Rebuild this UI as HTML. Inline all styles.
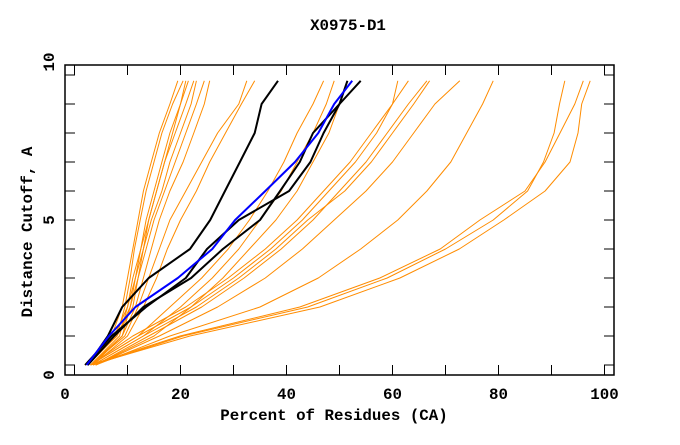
<!DOCTYPE html>
<html><head><meta charset="utf-8"><style>
body{margin:0;background:#fff}
svg text{font-family:"Liberation Mono",monospace;font-weight:bold;font-size:15.8px;fill:#000}
</style></head><body>
<svg id="chart" width="680" height="440" xmlns="http://www.w3.org/2000/svg">
<text x="348" y="30" text-anchor="middle">X0975-D1</text>
<text x="334" y="420" text-anchor="middle">Percent of Residues (CA)</text>
<text transform="translate(32,232) rotate(-90)" text-anchor="middle">Distance Cutoff, A</text>
<g id="series"></g>
<g id="axes"></g>
</svg>
<script>
const cutoffs=[0,1,2,3,4,5,6,7,8,9,9.8];
const orangeSeries=[
[2,8,9.5,10.5,11.3,12.4,13.5,15,16.5,18.5,20.5],
[2.5,7,9,10,11,12,13,14.5,16,18,19.5],
[3,8.5,10,11,12.5,13.5,15,16.5,18,20,21.5],
[2,7.5,10,11.5,12.5,14,15.5,17,19,21,22.5],
[3,9,10.5,12,13,14.5,16.5,18,20,22,23],
[2.5,8,11,12,13.5,15,17,19,21,23,24.5],
[3.5,9,11.5,13,14.5,16,18,20.5,22.5,24.5,25.5],
[2,8,10.5,11.5,13,14,15.5,17,18.5,20,21],
[3,9.5,12,14,16,18,21,24,27,31,32.5],
[3.5,10,13,15.5,17.5,20,23,25.5,28.5,31.5,34],
[3,12,18,24,29,33,36.5,39.5,42,45,47],
[3.5,13,20,26,31,35,39,42,45,47.5,49],
[4,15,22,28,33,38,42,45,48,50,51.5],
[3,11,21,29,36,42,47,52,56,60,63],
[3.5,13,23,31,38,44,51,56,60,64,67],
[4,14,24,32,39,45,50,55,59,63,66.5],
[3,12,22,30,37,43,48,53,57,60,61],
[4,16,27,36,43,49,55,60,64,68,72.7],
[3,19.9,42.5,57.6,69,76.5,85,88.8,91.6,94.4,96],
[3,21.8,46.3,61.4,72.6,81,88.8,93.5,95,95.7,97.3],
[3.5,20.5,44,59,70,79,85.5,88.5,90.5,91.5,92.5],
[4,18,35,46,54,61,66.5,71,74,77,79]
];
const blackSeries=[
[2.5,6.3,9,14,21.8,25.6,28.4,31.2,34,35.3,38.4],
[2,7,13.5,21,25,31,40.5,44.5,47,50,51.5],
[2.5,7.5,13,22,28,35,38.8,42.5,45,50,54]
];
const blueSeries=[[2.3,6.5,11.5,19.5,26,30.3,36,41.6,46,49,52.4]];
const xTicks=[0,10,20,30,40,50,60,70,80,90,100];
const xLabels=["0","20","40","60","80","100"];
const yTicks=[0,1,2,3,4,5,6,7,8,9,10];
const yLabels=["0","5","10"];

const L=65,R=614,T=65,B=375;
function sx(v){return 74.5+5.3*v;}
function sy(v){return 365-29*v;}
const NS="http://www.w3.org/2000/svg";
const g=document.getElementById('series'), ax=document.getElementById('axes');
function mk(tag,attrs,parent){const e=document.createElementNS(NS,tag);for(const k in attrs)e.setAttribute(k,attrs[k]);parent.appendChild(e);return e;}
function drawLine(vals,color,w,name){
  const pts=vals.map((v,i)=>sx(v).toFixed(1)+','+sy(cutoffs[i]).toFixed(1)).join(' ');
  const p=mk('polyline',{points:pts,fill:'none',stroke:color,'stroke-width':w,'stroke-linejoin':'round'},g);
  
  
}
orangeSeries.forEach((s,i)=>drawLine(s,'#ff8c00',1,'orange-line-'+(i+1)));
blackSeries.forEach((s,i)=>drawLine(s,'#000',2,'black-line-'+(i+1)));
blueSeries.forEach((s,i)=>drawLine(s,'#0000ff',2,'blue-line'));
const fr=mk('rect',{x:L,y:T,width:R-L,height:B-T,fill:'none',stroke:'#000','stroke-width':1.5},ax);


xTicks.forEach(v=>{const x=sx(v);if(x<=L+1)return;
  mk('line',{x1:x,y1:B,x2:x,y2:B-10,stroke:'#000','stroke-width':1},ax);
  mk('line',{x1:x,y1:T,x2:x,y2:T+10,stroke:'#000','stroke-width':1},ax);});
yTicks.forEach(v=>{const y=sy(v);if(y<T)return;
  mk('line',{x1:L,y1:y,x2:L+10,y2:y,stroke:'#000','stroke-width':1},ax);
  mk('line',{x1:R,y1:y,x2:R-10,y2:y,stroke:'#000','stroke-width':1},ax);});
xLabels.forEach((t,i)=>{const v=i*20;const x=v===0?L:sx(v);
  const e=mk('text',{x:x,y:399,'text-anchor':'middle'},ax);e.textContent=t;
  
  });
yLabels.forEach((t,i)=>{const v=i*5;let y=sy(v);if(v===0)y=B;if(v===10)y=T-3;
  const e=mk('text',{transform:`translate(54,${y}) rotate(-90)`,'text-anchor':'middle'},ax);e.textContent=t;
  
  });
</script>
</body></html>
